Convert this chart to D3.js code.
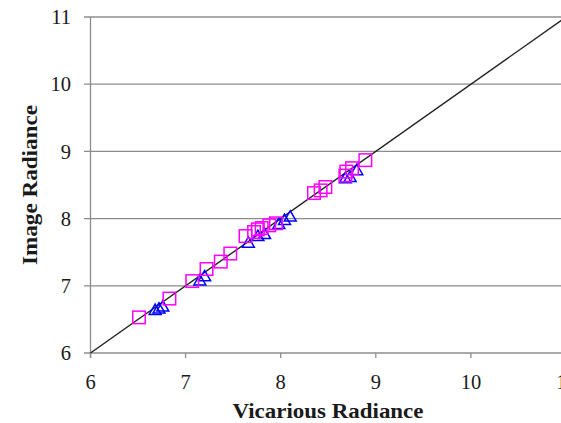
<!DOCTYPE html>
<html><head><meta charset="utf-8">
<script src="https://cdn.jsdelivr.net/npm/d3@7"></script>
<style>body{margin:0;background:#fff}svg{display:block}</style>
</head><body><svg id="c" width="561" height="423"></svg>
<script>
const xTicks = [6,7,8,9,10,11];
const yTicks = [6,7,8,9,10,11];
const squareVic = [6.51,6.83,7.07,7.22,7.37,7.47,7.63,7.72,7.76,7.80,7.88,7.95,8.35,8.42,8.47,8.68,8.69,8.75,8.89];
const squareImg = [6.53,6.81,7.07,7.25,7.36,7.48,7.74,7.80,7.84,7.86,7.90,7.93,8.38,8.42,8.47,8.64,8.70,8.75,8.87];
const triVic = [6.68,6.72,6.76,7.15,7.20,7.66,7.76,7.83,7.98,8.04,8.10,8.68,8.73,8.80];
const triImg = [6.64,6.66,6.69,7.08,7.14,7.64,7.74,7.77,7.92,7.98,8.03,8.60,8.62,8.72];
const lineX = [6,11];

const svg = d3.select('#c');
const x = d3.scaleLinear().domain([6,11]).range([90.5,566]);
const y = d3.scaleLinear().domain([6,11]).range([353,17]);
const font = '"Liberation Serif", "DejaVu Serif", serif';

svg.append('g').selectAll('line').data(yTicks).join('line')
  .attr('x1',84).attr('x2',561).attr('y1',d=>y(d)).attr('y2',d=>y(d))
  .attr('stroke','#8c8c8c').attr('stroke-width',1.3);
svg.append('line').attr('x1',x(6)).attr('x2',x(6)).attr('y1',y(11)).attr('y2',y(6)+5)
  .attr('stroke','#8c8c8c').attr('stroke-width',1.3);
svg.append('g').selectAll('line').data(xTicks).join('line')
  .attr('x1',d=>x(d)).attr('x2',d=>x(d)).attr('y1',y(6)).attr('y2',y(6)+5)
  .attr('stroke','#8c8c8c').attr('stroke-width',1.3);
svg.append('g').selectAll('text').data(yTicks).join('text')
  .attr('x',71).attr('y',d=>y(d)).attr('dy','0.35em').attr('text-anchor','end')
  .attr('font-family',font).attr('font-size',20.5).attr('fill','#1a1a1a').text(d=>d);
svg.append('g').selectAll('text').data(xTicks).join('text')
  .attr('x',d=>x(d)).attr('y',389).attr('text-anchor','middle')
  .attr('font-family',font).attr('font-size',20.5).attr('fill','#1a1a1a').text(d=>d);
svg.append('text').attr('x',328).attr('y',418).attr('text-anchor','middle')
  .attr('font-family',font).attr('font-weight','bold').attr('font-size',21).attr('fill','#1a1a1a')
  .attr('textLength',191).attr('lengthAdjust','spacingAndGlyphs')
  .text('Vicarious Radiance');
svg.append('text').attr('transform','translate(37,185) rotate(-90)').attr('text-anchor','middle')
  .attr('font-family',font).attr('font-weight','bold').attr('font-size',21).attr('fill','#1a1a1a')
  .attr('textLength',160).attr('lengthAdjust','spacingAndGlyphs')
  .text('Image Radiance');

svg.append('line').attr('x1',x(lineX[0])).attr('y1',y(lineX[0])).attr('x2',x(lineX[1])).attr('y2',y(lineX[1]))
  .attr('stroke','#222').attr('stroke-width',1.4);

const tri = d3.symbol().type(d3.symbolTriangle).size(62);
svg.append('g').selectAll('path').data(triVic.map((v,i)=>[v,triImg[i]])).join('path')
  .attr('d',tri).attr('transform',d=>`translate(${x(d[0])},${y(d[1])+1})`)
  .attr('fill','none').attr('stroke','#0000ff').attr('stroke-width',1.5);
const s = 12.5;
svg.append('g').selectAll('rect').data(squareVic.map((v,i)=>[v,squareImg[i]])).join('rect')
  .attr('x',d=>x(d[0])-s/2).attr('y',d=>y(d[1])-s/2).attr('width',s).attr('height',s)
  .attr('fill','none').attr('stroke','#ff00ff').attr('stroke-width',1.5);
</script></body></html>
